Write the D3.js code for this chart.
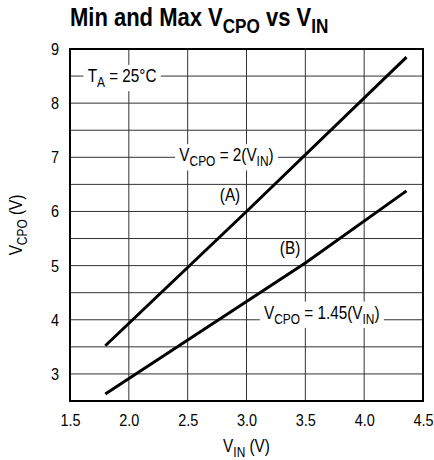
<!DOCTYPE html>
<html lang="en">
<head>
<meta charset="utf-8">
<title>Min and Max VCPO vs VIN</title>
<script src="https://d3js.org/d3.v7.min.js"></script>
<style>
  body { margin: 0; background: #fff; }
  svg text { font-family: "Liberation Sans", Arial, sans-serif; fill: #000; }
  .grid line { stroke: #333; stroke-width: 1; }
  .curve { fill: none; stroke: #000; stroke-width: 3; }
</style>
</head>
<body>
<script>
// data
var vinTicks = [1.5, 2.0, 2.5, 3.0, 3.5, 4.0, 4.5];
var vcpoTicks = [3, 4, 5, 6, 7, 8, 9];
var lineA_vin = [1.8, 3.0, 4.36];
var lineA_vcpo = [3.52, 6.0, 8.85];
var lineB_vin = [1.8, 3.5, 4.36];
var lineB_vcpo = [2.63, 5.05, 6.38];

var w = 434, h = 460;
var margin = {top: 49, right: 11, bottom: 59, left: 70};
var narrow = 0.85;  // squeeze Liberation Sans toward a condensed face
var fs = 18;        // annotation / axis title size

var svg = d3.select("body").append("svg")
  .attr("width", w).attr("height", h);

var x = d3.scaleLinear().domain([1.5, 4.5]).range([margin.left, w - margin.right]);
var y = d3.scaleLinear().domain([2.5, 9]).range([h - margin.bottom, margin.top]);

// text with subscripts
function rich(sel, parts, size) {
  parts.forEach(function(p, i) {
    var t = sel.append("tspan").text(p[0]);
    if (p[1] == "sub") {
      t.attr("font-size", size * 0.78).attr("dy", size * 0.27);
    } else if (i > 0 && parts[i - 1][1] == "sub") {
      t.attr("dy", -size * 0.27);
    }
  });
  return sel;
}

// a condensed text at (px, py)
function label(parent, px, py, size, rot, sx) {
  return parent.append("text")
    .attr("transform", "translate(" + px + "," + py + ")" + (rot ? " rotate(" + rot + ")" : "") +
      " scale(" + (sx || narrow) + ",1)")
    .attr("font-size", size);
}

// title
rich(label(svg, margin.left, 26, 25, 0, 0.88).attr("font-weight", "bold"),
  [["Min and Max V", ""], ["CPO", "sub"], [" vs V", ""], ["IN", "sub"]], 25);

// grid every 0.5
var grid = svg.append("g").attr("class", "grid");
grid.selectAll(".v").data(d3.range(2.0, 4.5, 0.5)).enter().append("line")
  .attr("x1", function(d) { return x(d); }).attr("x2", function(d) { return x(d); })
  .attr("y1", y(9)).attr("y2", y(2.5));
grid.selectAll(".h").data(d3.range(3.0, 9.0, 0.5)).enter().append("line")
  .attr("x1", x(1.5)).attr("x2", x(4.5))
  .attr("y1", function(d) { return y(d); }).attr("y2", function(d) { return y(d); });

// axes (labels only, the frame is drawn below)
var xAxis = d3.axisBottom(x).tickValues(vinTicks).tickSize(0).tickPadding(13)
  .tickFormat(d3.format(".1f"));
var yAxis = d3.axisLeft(y).tickValues(vcpoTicks).tickSize(0).tickPadding(13)
  .tickFormat(d3.format("d"));

var gx = svg.append("g").attr("transform", "translate(0," + (h - margin.bottom) + ")").call(xAxis);
var gy = svg.append("g").attr("transform", "translate(" + margin.left + ",0)").call(yAxis);
[gx, gy].forEach(function(g) {
  g.select(".domain").remove();
  g.selectAll("text").attr("font-size", 17)
    .attr("font-family", "'Liberation Sans', Arial, sans-serif")
    .attr("transform", "scale(" + narrow + ",1)");
});

// annotations with white boxes over the grid
function note(parts, vx, vy, dy, anchor) {
  var g = svg.append("g")
    .attr("transform", "translate(" + x(vx) + "," + (y(vy) + dy) + ") scale(" + narrow + ",1)");
  var box = g.append("rect").attr("fill", "#fff");
  var t = g.append("text").attr("font-size", fs).attr("text-anchor", anchor);
  rich(t, parts, fs);
  var b = t.node().getBBox();
  box.attr("x", b.x - 5).attr("y", b.y - 1).attr("width", b.width + 10).attr("height", b.height + 2);
}
note([["T", ""], ["A", "sub"], [" = 25°C", ""]], 1.65, 8.5, 6, "start");
note([["V", ""], ["CPO", "sub"], [" = 2(V", ""], ["IN", "sub"], [")", ""]], 2.83, 7.0, 4, "middle");
note([["V", ""], ["CPO", "sub"], [" = 1.45(V", ""], ["IN", "sub"], [")", ""]], 3.64, 4.0, -1, "middle");

// frame
svg.append("rect")
  .attr("x", x(1.5)).attr("y", y(9))
  .attr("width", x(4.5) - x(1.5)).attr("height", y(2.5) - y(9))
  .attr("fill", "none").attr("stroke", "#000").attr("stroke-width", 2);

// lines
var line = d3.line().x(function(d) { return x(d[0]); }).y(function(d) { return y(d[1]); });
svg.append("path").attr("class", "curve").attr("d", line(d3.zip(lineA_vin, lineA_vcpo)));
svg.append("path").attr("class", "curve").attr("d", line(d3.zip(lineB_vin, lineB_vcpo)));

// (A) and (B)
label(svg, x(2.86), y(6.2), fs).attr("text-anchor", "middle").text("(A)");
label(svg, x(3.37), y(5.22), fs).attr("text-anchor", "middle").text("(B)");

// axis titles
rich(label(svg, x(3.0), 452, fs).attr("text-anchor", "middle"),
  [["V", ""], ["IN", "sub"], [" (V)", ""]], fs);
rich(label(svg, 22, y(5.75), fs, -90).attr("text-anchor", "middle"),
  [["V", ""], ["CPO", "sub"], [" (V)", ""]], fs);
</script>
</body>
</html>
